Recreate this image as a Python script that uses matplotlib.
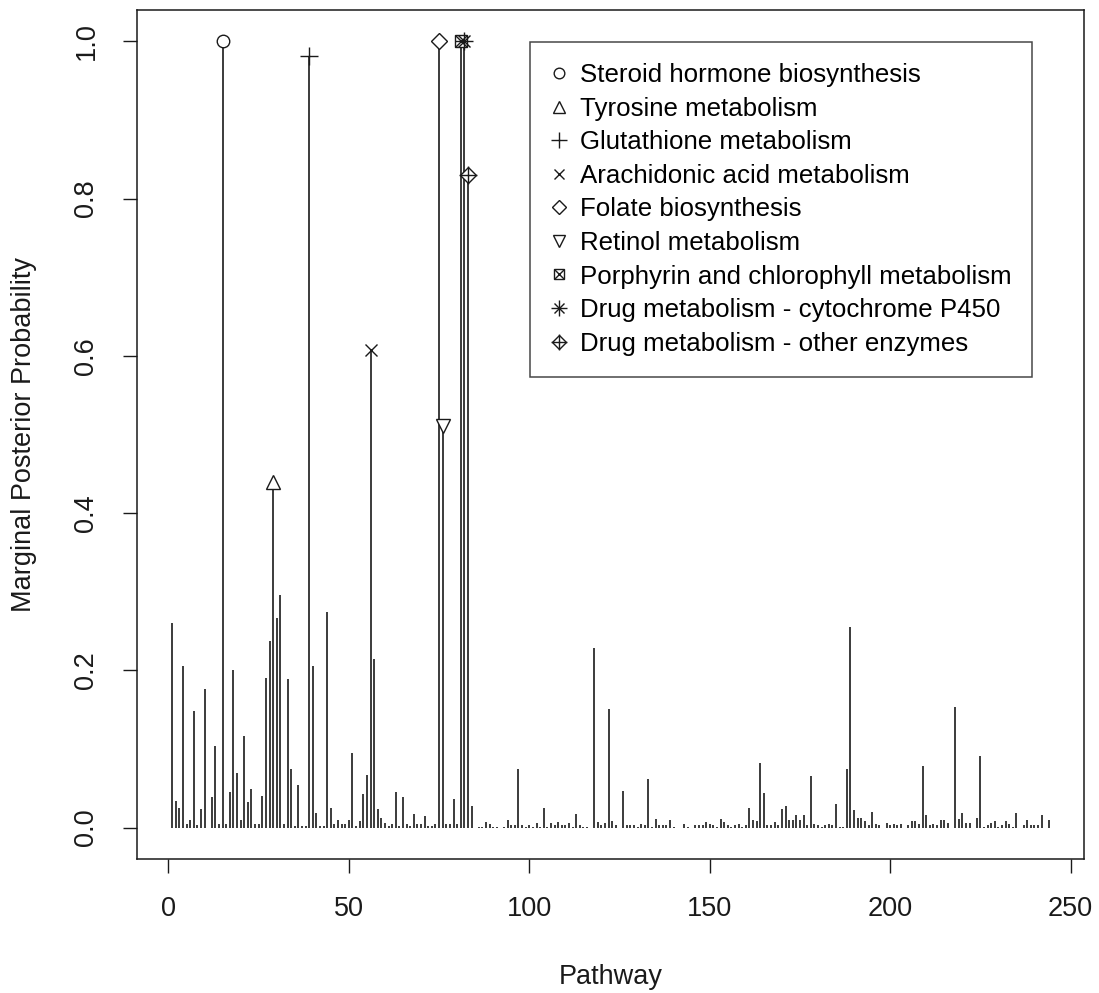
import matplotlib
matplotlib.use('Agg')
import matplotlib.pyplot as plt
import numpy as np

plt.rcParams['font.family'] = ['Liberation Sans', 'DejaVu Sans']

# marginal posterior probability for pathways 1..244
posterior = [
    0.260, 0.034, 0.025, 0.206, 0.005, 0.010, 0.148, 0.003, 0.023, 0.176,  # 1-10
    0.000, 0.039, 0.104, 0.005, 1.000, 0.005, 0.045, 0.200, 0.069, 0.010,  # 11-20
    0.117, 0.032, 0.049, 0.004, 0.005, 0.040, 0.190, 0.237, 0.439, 0.266,  # 21-30
    0.296, 0.005, 0.189, 0.074, 0.002, 0.054, 0.002, 0.002, 0.981, 0.206,  # 31-40
    0.018, 0.002, 0.002, 0.274, 0.025, 0.004, 0.010, 0.004, 0.004, 0.010,  # 41-50
    0.095, 0.002, 0.008, 0.043, 0.067, 0.608, 0.215, 0.023, 0.012, 0.006,  # 51-60
    0.002, 0.005, 0.045, 0.002, 0.039, 0.005, 0.002, 0.017, 0.004, 0.005,  # 61-70
    0.015, 0.002, 0.002, 0.005, 1.000, 0.511, 0.004, 0.004, 0.036, 0.004,  # 71-80
    1.000, 1.000, 0.830, 0.027, 0.000, 0.001, 0.001, 0.007, 0.005, 0.001,  # 81-90
    0.001, 0.000, 0.001, 0.010, 0.003, 0.003, 0.074, 0.003, 0.001, 0.003,  # 91-100
    0.001, 0.006, 0.001, 0.025, 0.001, 0.006, 0.003, 0.007, 0.003, 0.003,  # 101-110
    0.006, 0.001, 0.017, 0.003, 0.001, 0.001, 0.000, 0.228, 0.007, 0.003,  # 111-120
    0.006, 0.151, 0.008, 0.003, 0.000, 0.047, 0.003, 0.003, 0.003, 0.001,  # 121-130
    0.004, 0.003, 0.062, 0.001, 0.011, 0.003, 0.003, 0.003, 0.009, 0.001,  # 131-140
    0.000, 0.000, 0.005, 0.001, 0.000, 0.003, 0.003, 0.003, 0.007, 0.004,  # 141-150
    0.003, 0.001, 0.011, 0.007, 0.003, 0.001, 0.003, 0.005, 0.001, 0.003,  # 151-160
    0.025, 0.009, 0.008, 0.082, 0.044, 0.003, 0.003, 0.007, 0.003, 0.023,  # 161-170
    0.027, 0.009, 0.009, 0.016, 0.009, 0.016, 0.003, 0.065, 0.005, 0.003,  # 171-180
    0.001, 0.003, 0.005, 0.003, 0.030, 0.001, 0.001, 0.075, 0.255, 0.022,  # 181-190
    0.012, 0.012, 0.008, 0.003, 0.020, 0.005, 0.003, 0.000, 0.006, 0.003,  # 191-200
    0.004, 0.003, 0.005, 0.000, 0.003, 0.008, 0.008, 0.004, 0.078, 0.016,  # 201-210
    0.003, 0.005, 0.003, 0.009, 0.009, 0.006, 0.000, 0.153, 0.011, 0.018,  # 211-220
    0.006, 0.006, 0.000, 0.012, 0.091, 0.001, 0.003, 0.006, 0.008, 0.001,  # 221-230
    0.003, 0.008, 0.004, 0.001, 0.018, 0.000, 0.003, 0.009, 0.003, 0.003,  # 231-240
    0.003, 0.016, 0.000, 0.009,                                            # 241-244
]
pathway = np.arange(1, len(posterior) + 1)

# highlighted pathways and their names
top_ids = [15, 29, 39, 56, 75, 76, 81, 82, 83]
top_names = [
    'Steroid hormone biosynthesis',
    'Tyrosine metabolism',
    'Glutathione metabolism',
    'Arachidonic acid metabolism',
    'Folate biosynthesis',
    'Retinol metabolism',
    'Porphyrin and chlorophyll metabolism',
    'Drug metabolism - cytochrome P450',
    'Drug metabolism - other enzymes',
]
# R pch 1..9 rebuilt from matplotlib markers (combined ones are overlaid)
pch = [['o'], ['^'], ['+'], ['x'], ['D'], ['v'], ['s', 'x'], ['+', 'x'], ['D', '+']]
msize = {'o': 9, '^': 10, '+': 13, 'x': 9, 'D': 8, 'v': 10, 's': 8}

ink = '#1a1a1a'
fig = plt.figure(figsize=(10.99, 9.93), dpi=100)
ax = fig.add_axes([137 / 1099, 1 - 859 / 993, (1084 - 137) / 1099, (859 - 10) / 993])

ax.vlines(pathway, 0, posterior, colors=ink, linewidth=1.2)

handles = []
for pid, marks in zip(top_ids, pch):
    yv = posterior[pid - 1]
    parts = []
    for m in marks:
        filled = m in ('+', 'x')
        h, = ax.plot([pid], [yv], linestyle='none', marker=m, markersize=msize[m],
                     markerfacecolor='white' if not filled else ink,
                     markeredgecolor=ink, markeredgewidth=1.0, zorder=3)
        parts.append(h)
    handles.append(tuple(parts))

ax.set_xlim(-8.72, 253.72)
ax.set_ylim(-0.04, 1.04)
ax.set_xticks([0, 50, 100, 150, 200, 250])
ax.set_yticks([0.0, 0.2, 0.4, 0.6, 0.8, 1.0])
ax.set_yticklabels(['0.0', '0.2', '0.4', '0.6', '0.8', '1.0'], rotation=90, va='center')
ax.tick_params(direction='out', length=10, width=1.0, colors=ink, labelsize=19.5, pad=17)
ax.set_xlabel('Pathway', fontsize=19.5, labelpad=30, color=ink)
ax.set_ylabel('Marginal Posterior Probability', fontsize=19.5, labelpad=26, color=ink)
for s in ax.spines.values():
    s.set_linewidth(1.1)
    s.set_color(ink)

leg = ax.legend(handles, top_names, loc='upper left',
                bbox_to_anchor=(530 / 1099, 1 - 42 / 993), bbox_transform=fig.transFigure,
                fontsize=18.6, frameon=True, fancybox=False, edgecolor=ink,
                borderaxespad=0, borderpad=0.82, labelspacing=0.37,
                handlelength=0.6, handletextpad=0.5, markerscale=0.85)
leg.get_frame().set_linewidth(1.1)

fig.savefig('out.png', dpi=100)
